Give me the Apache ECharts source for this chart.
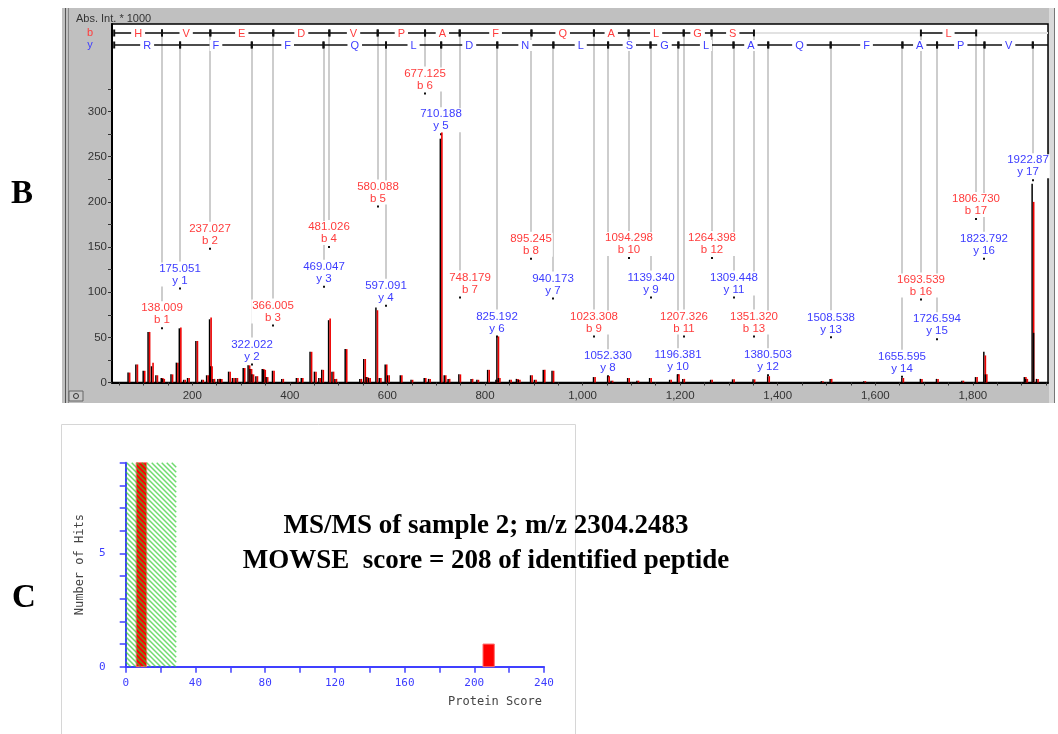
<!DOCTYPE html>
<html>
<head>
<meta charset="utf-8">
<title>MS/MS sample 2</title>
<script src="https://cdn.jsdelivr.net/npm/echarts@6.0.0/dist/echarts.min.js"></script>
<style>
  html, body { margin: 0; padding: 0; background: #fff; }
  #main { width: 1058px; height: 734px; }
</style>
</head>
<body>
<div id="main"></div>
<script>
// ---------- panel B : fragment spectrum ----------
// b ions (null = not matched)
var bMass = ['138.009', '237.027', '366.005', '481.026', '580.088', '677.125', '748.179', '895.245',
  '1023.308', '1094.298', '1207.326', '1264.398', '1351.320', null, null, '1693.539', '1806.730'];
// height of the label marker (intensity units)
var bLevel = [60, 148, 63, 150, 195, 320, 94, 137, 51, 138, 51, 138, 51, null, null, 92, 181];
var bResidues = ['H', 'V', 'E', 'D', 'V', 'P', 'A', 'F', 'Q', 'A', 'L', 'G', 'S', '', '', '', 'L'];

var yMass = ['175.051', '322.022', '469.047', '597.091', '710.188', '825.192', '940.173', '1052.330',
  '1139.340', '1196.381', '1309.448', '1380.503', '1508.538', '1655.595', '1726.594', '1823.792', '1922.87'];
var yLevel = [104, 20, 106, 85, 275, 51, 93, 7, 94, 8, 94, 8, 50, 6.5, 48, 137, 224];
var yResidues = ['R', 'F', 'F', 'Q', 'L', 'D', 'N', 'L', 'S', 'G', 'L', 'A', 'Q', 'F', 'A', 'P', 'V'];

// peaks: [m/z, black intensity, red intensity (optional)]
var peaks = [
  [70, 11], [86, 20], [101, 13], [111, 56], [118, 18, 22], [127, 8], [138, 5], [141, 4], [158, 9],
  [169, 22], [175, 60, 61], [184, 3], [192, 5], [209, 46], [221, 3], [231, 8], [237, 70, 72], [239, 18],
  [244, 4], [254, 4], [259, 4], [276, 12], [284, 5], [291, 5], [306, 16], [316, 19], [320, 15], [324, 9],
  [332, 7], [345, 15], [348, 14], [353, 6], [366, 13], [385, 4], [415, 5], [425, 5], [443, 34], [452, 12],
  [461, 5], [467, 14], [481, 69, 71], [488, 12], [494, 4], [515, 37], [545, 4], [553, 26], [558, 6],
  [563, 5], [578, 83, 80], [585, 5], [597, 20], [602, 8], [628, 8], [650, 3], [677, 5], [686, 4],
  [710, 270, 277], [718, 8], [726, 4], [748, 9], [773, 4], [785, 3], [807, 14], [824, 3], [826, 51],
  [829, 5], [852, 3], [866, 4], [870, 3], [895, 8], [903, 3], [921, 14], [939, 13], [1024, 6], [1053, 7],
  [1060, 2], [1094, 5], [1113, 2], [1139, 5], [1180, 3], [1196, 9], [1207, 4], [1264, 3], [1309, 3.5],
  [1351, 3.5], [1381, 7], [1491, 1.5], [1509, 4], [1578, 1.5], [1656, 5], [1694, 4], [1727, 4], [1779, 2],
  [1807, 6], [1824, 34, 30], [1827, 9], [1907, 6], [1910, 4], [1923, 220, 200], [1926, 55, 0], [1932, 4]
];

var ladderStart = 40;
var intLabels = [0, 50, 100, 150, 200, 250, 300];
var intTicks = [0, 25, 50, 75, 100, 125, 150, 175, 200, 225, 250, 275, 300, 325];
var mzLabels = [200, 400, 600, 800, 1000, 1200, 1400, 1600, 1800];
var mzTicks = [50, 100, 150, 200, 250, 300, 350, 400, 450, 500, 550, 600, 650, 700, 750, 800, 850, 900, 950,
  1000, 1050, 1100, 1150, 1200, 1250, 1300, 1350, 1400, 1450, 1500, 1550, 1600, 1650, 1700, 1750, 1800,
  1850, 1900, 1950];

// ---------- panel C : Mascot score histogram ----------
var scoreThreshold = 29;
var hitBins = [[6, 12, 9], [205, 211.5, 1]]; // [score from, score to, hits]
var hitLabels = [0, 5];
var scoreLabels = [0, 40, 80, 120, 160, 200, 240];

var RED = '#ff3c3c', BLUE = '#3c3cff';
var SANS = '"Liberation Sans", Arial, sans-serif';
var MONO = '"DejaVu Sans Mono", monospace';
var SERIF = '"Liberation Serif", "Times New Roman", serif';
// labels nudged sideways (px) to keep clear of neighbours / frame
var labelShift = { b7: 10, y17: -5 };

// ion annotations
var ions = [];
bMass.forEach(function (m, i) {
  if (m) ions.push({ mass: parseFloat(m), level: bLevel[i], text: m + '\nb ' + (i + 1), type: 'b', key: 'b' + (i + 1) });
});
yMass.forEach(function (m, i) {
  if (m) ions.push({ mass: parseFloat(m), level: yLevel[i], text: m + '\ny ' + (i + 1), type: 'y', key: 'y' + (i + 1) });
});

// ladder segments
var segs = [{ from: ladderStart, to: 1954, row: 0, faint: true }];
var bPos = [ladderStart].concat(bMass.map(function (m) { return m ? parseFloat(m) : null; }));
bResidues.forEach(function (r, i) {
  if (bPos[i] != null && bPos[i + 1] != null) segs.push({ from: bPos[i], to: bPos[i + 1], res: r, row: 0 });
});
var yPos = [ladderStart].concat(yMass.map(function (m) { return parseFloat(m); }));
yResidues.forEach(function (r, i) {
  segs.push({ from: yPos[i], to: yPos[i + 1], res: r, row: 1 });
});
segs.push({ from: yPos[yPos.length - 1], to: 1954, row: 1, tail: true });

function renderPeak(params, api) {
  var p = peaks[params.dataIndex];
  var base = api.coord([p[0], 0]);
  var tb = api.coord([p[0], p[1]]);
  var tr = api.coord([p[0], p.length > 2 ? p[2] : p[1]]);
  return {
    type: 'group', children: [
      { type: 'rect', shape: { x: base[0] - 1.5, y: tb[1], width: 1.5, height: base[1] - tb[1] }, style: { fill: '#000' } },
      { type: 'rect', shape: { x: base[0], y: tr[1], width: 1.6, height: base[1] - tr[1] }, style: { fill: '#ee0000' } }
    ]
  };
}

function renderIon(params, api) {
  var ion = ions[params.dataIndex];
  var cs = params.coordSys;
  var p = api.coord([ion.mass, ion.level]);
  var x = Math.round(p[0]);
  var rowY = cs.y + (ion.type === 'b' ? 9 : 21);
  return {
    type: 'group', children: [
      { type: 'line', shape: { x1: x, y1: rowY + 4, x2: x, y2: p[1] - 27 }, style: { stroke: '#cdcdcd', lineWidth: 2 } },
      { type: 'rect', shape: { x: x - 1, y: p[1] - 1, width: 2, height: 2 }, style: { fill: '#111' } }
    ]
  };
}

function renderIonLabel(params, api) {
  var ion = ions[params.dataIndex];
  var p = api.coord([ion.mass, ion.level]);
  var x = Math.round(p[0]) + (labelShift[ion.key] || 0);
  return {
    type: 'text', x: x, y: p[1] - 2,
    style: {
      text: ion.text, fill: ion.type === 'b' ? RED : BLUE, font: '11.5px ' + SANS,
      align: 'center', verticalAlign: 'bottom', lineHeight: 12, backgroundColor: '#fff', padding: [0, 1]
    }
  };
}

function renderLadder(params, api) {
  var s = segs[params.dataIndex];
  var cs = params.coordSys;
  var y = cs.y + (s.row === 0 ? 9 : 21);
  var x0 = api.coord([s.from, 0])[0], x1 = api.coord([s.to, 0])[0];
  if (s.faint) {
    return { type: 'line', shape: { x1: x0, y1: y, x2: x1, y2: y }, style: { stroke: '#e2e2e2', lineWidth: 2 } };
  }
  var ch = [
    { type: 'line', shape: { x1: x0, y1: y, x2: x1, y2: y }, style: { stroke: '#111', lineWidth: 1.5 } },
    { type: 'rect', shape: { x: x0 - 1, y: y - 3.5, width: 2, height: 7 }, style: { fill: '#111' } }
  ];
  if (!s.tail) ch.push({ type: 'rect', shape: { x: x1 - 1, y: y - 3.5, width: 2, height: 7 }, style: { fill: '#111' } });
  if (s.res) {
    ch.push({
      type: 'text', x: (x0 + x1) / 2, y: y + 0.5,
      style: { text: s.res, fill: s.row === 0 ? RED : BLUE, font: '11px ' + SANS, align: 'center', verticalAlign: 'middle', backgroundColor: '#fff', padding: [0, 3] }
    });
  }
  return { type: 'group', children: ch };
}

function renderHatch(params, api) {
  var a = api.coord([0, 9]);
  var b = api.coord([scoreThreshold, 0]);
  var x0 = a[0], y0 = a[1], w = b[0] - a[0], h = b[1] - a[1];
  var lines = [];
  for (var c = -h; c < w; c += 5) {
    var t0 = Math.max(0, -c), t1 = Math.min(w - c, h);
    if (t1 > t0) {
      lines.push({ type: 'line', shape: { x1: x0 + c + t0, y1: y0 + t0, x2: x0 + c + t1, y2: y0 + t1 }, style: { stroke: '#33cc33', lineWidth: 1.5, opacity: 0.7 } });
    }
  }
  return { type: 'group', children: lines };
}

function renderBin(params, api) {
  var d = hitBins[params.dataIndex];
  var a = api.coord([d[0], d[2]]);
  var b = api.coord([d[1], 0]);
  return {
    type: 'rect', shape: { x: a[0], y: a[1], width: b[0] - a[0], height: b[1] - a[1] },
    style: { fill: '#ff0000', stroke: '#ff7070', lineWidth: 1 }
  };
}

var chart = echarts.init(document.getElementById('main'));
var option = {
  animation: false,
  backgroundColor: '#fff',
  graphic: [
    // spectrum window frame
    { type: 'rect', z: -100, shape: { x: 62, y: 8, width: 993, height: 395 }, style: { fill: '#c0c0c0' } },
    { type: 'line', z: -99, shape: { x1: 65.5, y1: 8, x2: 65.5, y2: 403 }, style: { stroke: '#555', lineWidth: 1 } },
    { type: 'line', z: -99, shape: { x1: 68.5, y1: 8, x2: 68.5, y2: 403 }, style: { stroke: '#888', lineWidth: 1 } },
    { type: 'rect', z: -99, shape: { x: 1049, y: 8, width: 5, height: 395 }, style: { fill: '#dadada' } },
    { type: 'line', z: -99, shape: { x1: 1054.5, y1: 8, x2: 1054.5, y2: 403 }, style: { stroke: '#777', lineWidth: 1 } },
    { type: 'rect', z: -98, shape: { x: 69, y: 391, width: 14, height: 10 }, style: { fill: '#c8c8c8', stroke: '#666', lineWidth: 1 } },
    { type: 'circle', z: -97, shape: { cx: 76, cy: 396, r: 2.5 }, style: { fill: 'none', stroke: '#333', lineWidth: 1 } },
    { type: 'text', x: 76, y: 19, style: { text: 'Abs. Int. * 1000', fill: '#333', font: '11px ' + SANS, verticalAlign: 'middle' } },
    { type: 'text', x: 90, y: 33, style: { text: 'b', fill: RED, font: '11px ' + SANS, align: 'center', verticalAlign: 'middle' } },
    { type: 'text', x: 90, y: 45, style: { text: 'y', fill: BLUE, font: '11px ' + SANS, align: 'center', verticalAlign: 'middle' } },
    // panel letters
    { type: 'text', x: 22, y: 194, style: { text: 'B', fill: '#000', font: 'bold 33px ' + SERIF, align: 'center', verticalAlign: 'middle' } },
    { type: 'text', x: 24, y: 598, style: { text: 'C', fill: '#000', font: 'bold 33px ' + SERIF, align: 'center', verticalAlign: 'middle' } },
    // histogram box and texts
    { type: 'rect', z: -100, shape: { x: 61.5, y: 424.5, width: 514, height: 320 }, style: { fill: 'none', stroke: '#d6d6d6', lineWidth: 1 } },
    { type: 'text', x: 542, y: 702, style: { text: 'Protein Score', fill: '#444', font: '12px ' + MONO, align: 'right', verticalAlign: 'middle' } },
    { type: 'text', x: 486, y: 526, style: { text: 'MS/MS of sample 2; m/z 2304.2483', fill: '#000', font: 'bold 27px ' + SERIF, align: 'center', verticalAlign: 'middle' } },
    { type: 'text', x: 486, y: 561, style: { text: 'MOWSE  score = 208 of identified peptide', fill: '#000', font: 'bold 27px ' + SERIF, align: 'center', verticalAlign: 'middle' } }
  ],
  grid: [
    { left: 112, top: 24, width: 936, height: 358.5, show: true, backgroundColor: '#fff', borderColor: '#000', borderWidth: 1.5 },
    { left: 125.7, top: 462.7, width: 418.3, height: 204 }
  ],
  xAxis: [
    {
      gridIndex: 0, type: 'value', min: 35.5, max: 1954,
      axisLine: { show: true, onZero: false, lineStyle: { color: '#000', width: 2 } },
      axisTick: { show: true, customValues: mzTicks, length: 3, lineStyle: { color: '#333' } },
      axisLabel: { customValues: mzLabels, color: '#333', fontSize: 11.5, fontFamily: SANS, margin: 7 },
      splitLine: { show: false }
    },
    {
      gridIndex: 1, type: 'value', min: 0, max: 240, interval: 20,
      axisLine: { show: true, onZero: false, lineStyle: { color: '#4040ff', width: 2 } },
      axisTick: { show: true, length: 6, lineStyle: { color: '#4040ff', width: 1.5 } },
      axisLabel: {
        color: BLUE, fontSize: 11, fontFamily: MONO, margin: 11,
        formatter: function (v) { return scoreLabels.indexOf(v) >= 0 ? String(v) : ''; }
      },
      splitLine: { show: false }
    }
  ],
  yAxis: [
    {
      gridIndex: 0, type: 'value', min: 0, max: 397,
      axisLine: { show: true, lineStyle: { color: '#000', width: 2 } },
      axisTick: { show: true, customValues: intTicks, length: 4, lineStyle: { color: '#333' } },
      axisLabel: { customValues: intLabels, color: '#333', fontSize: 11.5, fontFamily: SANS, margin: 5 },
      splitLine: { show: false }
    },
    {
      gridIndex: 1, type: 'value', min: 0, max: 9, interval: 1,
      name: 'Number of Hits', nameLocation: 'middle', nameRotate: 90, nameGap: 40,
      nameTextStyle: { color: '#444', fontSize: 12, fontFamily: MONO },
      axisLine: { show: true, lineStyle: { color: '#4040ff', width: 2 } },
      axisTick: { show: true, length: 6, lineStyle: { color: '#4040ff', width: 1.5 } },
      axisLabel: {
        color: BLUE, fontSize: 11, fontFamily: MONO, margin: 20,
        formatter: function (v) { return hitLabels.indexOf(v) >= 0 ? String(v) : ''; }
      },
      splitLine: { show: false }
    }
  ],
  series: [
    {
      type: 'custom', name: 'ion lines', xAxisIndex: 0, yAxisIndex: 0, z: 1,
      renderItem: renderIon,
      data: ions.map(function (d) { return [d.mass, d.level]; })
    },
    {
      type: 'custom', name: 'peaks', xAxisIndex: 0, yAxisIndex: 0, z: 2,
      renderItem: renderPeak,
      data: peaks.map(function (p) { return [p[0], p[1]]; })
    },
    {
      type: 'custom', name: 'ladder', xAxisIndex: 0, yAxisIndex: 0, z: 3,
      renderItem: renderLadder,
      data: segs.map(function (s) { return [s.from, 0]; })
    },
    {
      type: 'custom', name: 'ion labels', xAxisIndex: 0, yAxisIndex: 0, z: 4,
      renderItem: renderIonLabel,
      data: ions.map(function (d) { return [d.mass, d.level]; })
    },
    {
      type: 'custom', name: 'hits', xAxisIndex: 1, yAxisIndex: 1, z: 2,
      renderItem: renderBin,
      data: hitBins.map(function (d) { return [d[0], d[2]]; })
    },
    {
      type: 'custom', name: 'threshold', xAxisIndex: 1, yAxisIndex: 1, z: 3,
      renderItem: renderHatch,
      data: [[0, 0]]
    }
  ]
};
chart.setOption(option);
</script>
</body>
</html>
